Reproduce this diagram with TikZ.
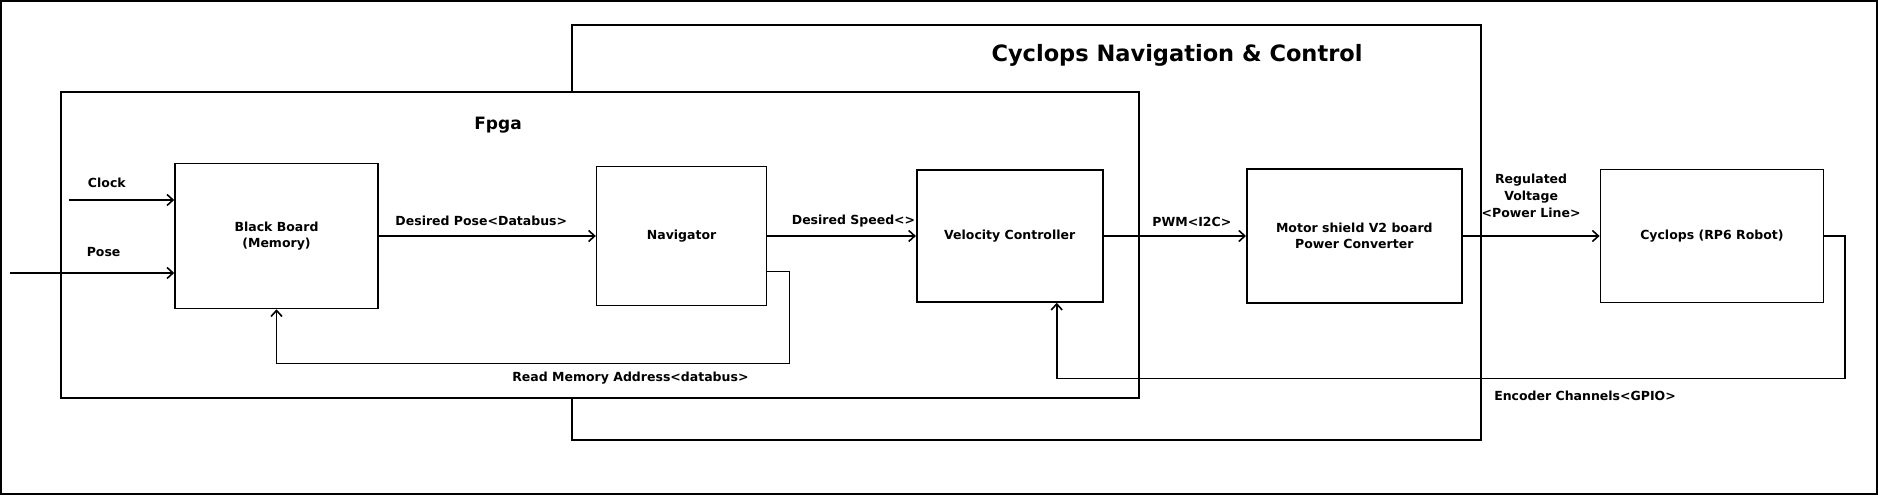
\documentclass[tikz,border=0pt]{standalone}
\usepackage{fontspec}
\setmainfont{DejaVu Sans}
\usetikzlibrary{positioning,arrows.meta}

\begin{document}
\begin{tikzpicture}[x=1pt, y=1pt,
  box/.style={draw, line width=1.6pt, fill=white, align=center, inner sep=2pt,
    font=\fontsize{12.5}{16.5}\selectfont\bfseries},
  frame/.style={draw, line width=1.6pt, fill=white},
  arrow/.style={-{Straight Barb[length=6pt,width=11pt]}, line width=1.6pt},
  wire/.style={line width=1.6pt},
  lbl/.style={align=center, inner sep=1pt, font=\fontsize{12.5}{17}\selectfont\bfseries}
]
\useasboundingbox (0,0) rectangle (1878,495);
\draw[line width=2pt] (1,1) rectangle (1877,494);

% containers
\draw[frame] (572,55) rectangle (1481,470);
\node[lbl, font=\fontsize{22.5}{26}\selectfont\bfseries] (navtitle) at (1177,440) {Cyclops Navigation \& Control};
\draw[frame] (61,97) rectangle (1139,403);
\node[lbl, font=\fontsize{17}{20}\selectfont\bfseries] (fpgatitle) at (498,369.5) {Fpga};

% blocks
\node[box, minimum width=203pt, minimum height=145pt] (board) at (276.5,259) {Black Board\\(Memory)};
\node[box, minimum width=170pt, minimum height=139pt, right=217pt of board] (nav) {Navigator};
\node[box, minimum width=186pt, minimum height=132pt, right=148.5pt of nav] (vel) {Velocity Controller};
\node[box, minimum width=215pt, minimum height=134pt, right=142.5pt of vel] (motor) {Motor shield V2 board\\Power Converter};
\node[box, minimum width=223pt, minimum height=133pt, right=137pt of motor] (robot) {Cyclops (RP6 Robot)};

% inputs
\coordinate (clockin) at (69,295);
\coordinate (posein) at (10,222);
\draw[arrow] (clockin) -- node[lbl, above=10.5pt, pos=0.36] {Clock} (clockin -| board.west);
\draw[arrow] (posein) -- node[lbl, above=15pt, pos=0.57] {Pose} (posein -| board.west);

% forward path
\draw[arrow] (board) -- node[lbl, midway, above=9pt, xshift=-6pt] {Desired Pose<Databus>} (nav);
\draw[arrow] (nav) -- node[lbl, pos=0.58, above=7pt] {Desired Speed<>} (vel);
\draw[arrow] (vel) -- node[lbl, pos=0.62, above=8pt] {PWM<I2C>} (motor);
\draw[arrow] (motor) -- node[lbl, midway, above=17pt] {Regulated\\Voltage\\<Power Line>} (robot);

% feedback
\coordinate (navtap) at ([yshift=-35.5pt]nav.east);
\draw[arrow] (navtap) -- ++(22,0) -- ++(0,-92)
  -| node[lbl, pos=0.155, below=7pt] {Read Memory Address<databus>} (board.south);
\coordinate (veltap) at ([xshift=47pt]vel.south);
\draw[arrow] (robot.east) -- ++(21,0) -- ++(0,-142.5)
  -| node[lbl, pos=0.165, below=10.5pt] {Encoder Channels<GPIO>} (veltap);
\end{tikzpicture}
\end{document}
